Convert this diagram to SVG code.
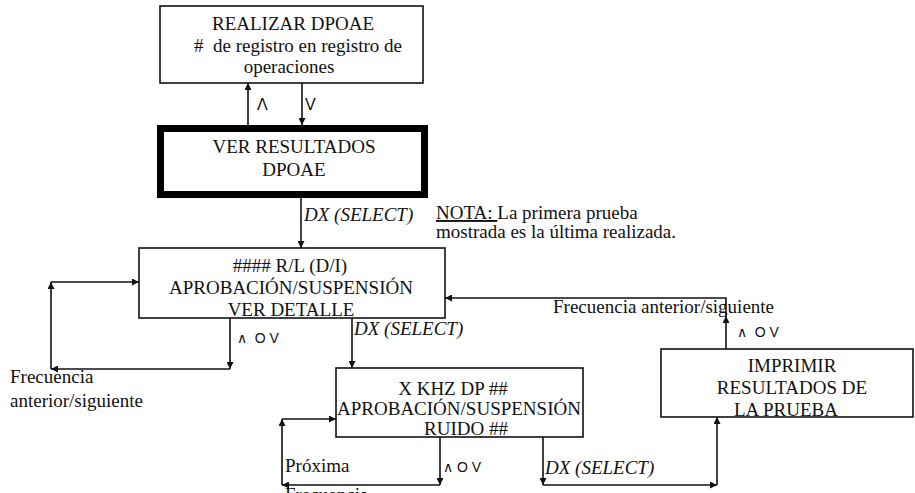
<svg xmlns="http://www.w3.org/2000/svg" width="915" height="493" viewBox="0 0 915 493">
<style>
.box{fill:#fff;stroke:#111;stroke-width:1.6}
.thick{fill:#fff;stroke:#000;stroke-width:7}
.t{font-family:"Liberation Serif","Times New Roman",serif;font-size:19px;fill:#111;text-anchor:middle}
.l{font-family:"Liberation Serif","Times New Roman",serif;font-size:19px;fill:#111}
.i{font-family:"Liberation Serif","Times New Roman",serif;font-size:19px;font-style:italic;fill:#111}
.s{font-family:"Liberation Sans",Arial,sans-serif;font-size:14px;fill:#111}
.sb{font-family:"Liberation Sans",Arial,sans-serif;font-size:16px;fill:#111}
.c{fill:none;stroke:#111;stroke-width:1.6}
.ca{fill:none;stroke:#111;stroke-width:1.6;marker-end:url(#ah)}
</style>
<defs>
<marker id="ah" viewBox="0 0 10 10" refX="10" refY="5" markerWidth="9" markerHeight="7" markerUnits="userSpaceOnUse" orient="auto">
<path d="M0,0 L10,5 L0,10 z" fill="#111"/>
</marker>
</defs>
<rect width="915" height="493" fill="#fff"/>

<g id="n1">
<rect class="box" x="160" y="6" width="263" height="77"/>
<text class="t" x="293" y="30">REALIZAR DPOAE</text>
<text class="t" x="298" y="52" xml:space="preserve">#  de registro en registro de</text>
<text class="t" x="289" y="73">operaciones</text>
</g>

<g id="n2">
<rect class="thick" x="160.5" y="128.5" width="264" height="66"/>
<text class="t" x="294" y="153">VER RESULTADOS</text>
<text class="t" x="294" y="176">DPOAE</text>
</g>

<g id="n3">
<rect class="box" x="139" y="248" width="306" height="70"/>
<text class="t" x="290" y="272">#### R/L (D/I)</text>
<text class="t" x="291" y="294">APROBACIÓN/SUSPENSIÓN</text>
<text class="t" x="291" y="316">VER DETALLE</text>
</g>

<g id="n4">
<rect class="box" x="336" y="368" width="247" height="69"/>
<text class="t" x="453" y="395">X KHZ DP ##</text>
<text class="t" x="459" y="415">APROBACIÓN/SUSPENSIÓN</text>
<text class="t" x="466" y="435">RUIDO ##</text>
</g>

<g id="n5">
<rect class="box" x="661" y="349" width="252" height="68"/>
<text class="t" x="792" y="372">IMPRIMIR</text>
<text class="t" x="792" y="394">RESULTADOS DE</text>
<text class="t" x="786" y="416">LA PRUEBA</text>
</g>

<g id="connectors">
<line class="ca" x1="248" y1="125" x2="248" y2="83"/>
<line class="ca" x1="302" y1="83" x2="302" y2="125"/>
<line class="ca" x1="301" y1="198" x2="301" y2="248"/>
<line class="ca" x1="230" y1="318" x2="230" y2="369"/>
<line class="ca" x1="230" y1="369" x2="51" y2="369"/>
<line class="ca" x1="51" y1="369" x2="51" y2="282"/>
<line class="ca" x1="51" y1="282" x2="139" y2="282"/>
<line class="ca" x1="352" y1="318" x2="352" y2="368"/>
<line class="ca" x1="440" y1="437" x2="440" y2="485"/>
<line class="ca" x1="440" y1="485" x2="282" y2="485"/>
<line class="ca" x1="282" y1="485" x2="282" y2="419"/>
<line class="ca" x1="282" y1="419" x2="336" y2="419"/>
<line class="ca" x1="543" y1="437" x2="543" y2="485"/>
<line class="ca" x1="543" y1="485" x2="717" y2="485"/>
<line class="ca" x1="717" y1="485" x2="717" y2="417"/>
<line class="ca" x1="726" y1="349" x2="726" y2="316"/>
<polyline class="c" points="726,316 726,298 600,298"/>
<line class="ca" x1="600" y1="298" x2="445" y2="298"/>

<text class="sb" x="257" y="110">Λ</text>
<text class="sb" x="305" y="110">V</text>
<text class="i" x="304" y="221">DX (SELECT)</text>
<text class="s" x="237" y="343" xml:space="preserve">∧  O V</text>
<text class="i" x="354" y="335">DX (SELECT)</text>
<text class="l" x="10" y="383">Frecuencia</text>
<text class="l" x="10" y="407">anterior/siguiente</text>
<text class="l" x="553" y="313">Frecuencia anterior/siguiente</text>
<text class="s" x="737" y="337" xml:space="preserve">∧  O V</text>
<text class="l" x="285" y="472">Próxima</text>
<text class="l" x="285" y="501">Frecuencia</text>
<text class="s" x="443" y="472" xml:space="preserve">∧ O V</text>
<text class="i" x="545" y="474">DX (SELECT)</text>
</g>

<g id="note">
<text class="l" x="436" y="219"><tspan text-decoration="underline">NOTA: </tspan>La primera prueba</text>
<text class="l" x="436" y="238">mostrada es la última realizada.</text>
</g>
</svg>
